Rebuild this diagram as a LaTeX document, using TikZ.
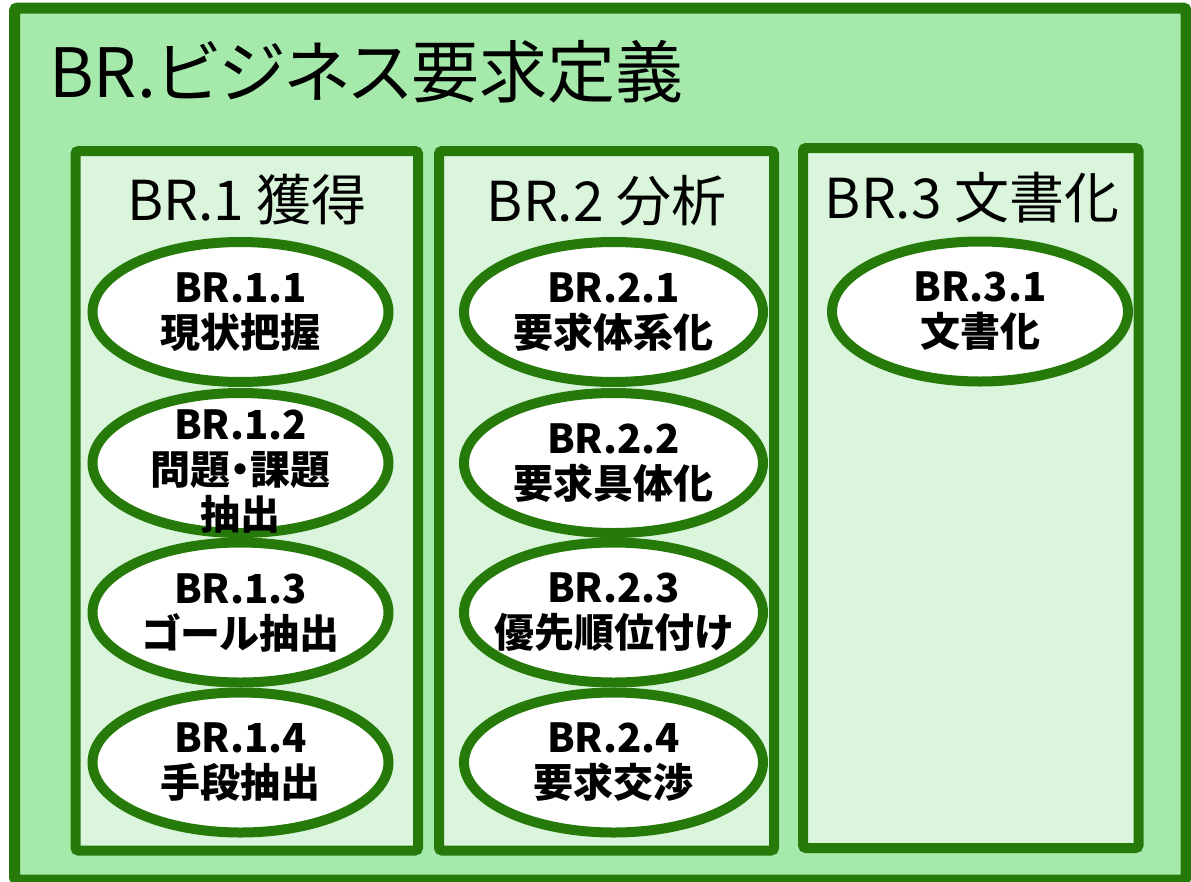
\documentclass[tikz,border=0pt]{standalone}
\usepackage{fontspec}
\setmainfont{Noto Sans CJK JP}[RawFeature=+palt]
\usetikzlibrary{shapes.geometric}
\definecolor{gstroke}{HTML}{267A0A}
\definecolor{gouter}{HTML}{A6EAAB}
\definecolor{ginner}{HTML}{DAF5DB}
\tikzset{
  outerbox/.style={rectangle, draw=gstroke, fill=gouter, line width=11pt, rounded corners=3pt, inner sep=0pt},
  colbox/.style={rectangle, draw=gstroke, fill=ginner, line width=10pt, rounded corners=3pt, inner sep=0pt},
  task/.style={ellipse, draw=gstroke, fill=white, line width=10pt, inner xsep=-40pt, inner ysep=-40pt, minimum width=296pt, minimum height=140pt, align=center, font=\fontsize{40}{45}\selectfont\bfseries},
  tasktext/.style={inner sep=0pt, align=center, font=\fontsize{40}{45}\selectfont\bfseries},
  coltitle/.style={anchor=base, inner sep=0pt, font=\fontsize{55}{60}\selectfont},
  maintitle/.style={anchor=base west, inner sep=0pt, font=\fontsize{68}{76}\selectfont}
}
\begin{document}
\begin{tikzpicture}[x=1pt,y=-1pt]
\useasboundingbox[fill=white] (0,0) rectangle (1191,881);
\node[outerbox, minimum width=1171.5pt, minimum height=872pt] (outer) at (600.25,444) {};
\node[maintitle] (title) at (49,97) {BR.ビジネス要求定義};

\node[colbox, minimum width=342.5pt, minimum height=699.5pt] (c1) at (246.75,500.75) {};
\node[colbox, minimum width=335pt, minimum height=699.5pt] (c2) at (606.5,500.75) {};
\node[colbox, minimum width=335.5pt, minimum height=700pt] (c3) at (970.75,498) {};

\node[coltitle] (t1) at (246.75,220) {BR.1 獲得};
\node[coltitle] (t2) at (606.5,221) {BR.2 分析};
\node[coltitle] (t3) at (972,218) {BR.3 文書化};

\node[task] (e11) at (240.5,312) {BR.1.1\\現状把握};
\node[task] (e12) at (240.5,463) {};
\node[tasktext] (e12t) at ([yshift=-8pt]e12.center) {BR.1.2\\問題・課題\\抽出};
\node[task] (e13) at (240.5,612.5) {BR.1.3\\ゴール抽出};
\node[task] (e14) at (240.5,762.5) {BR.1.4\\手段抽出};

\node[task, minimum width=299pt] (e21) at (613.5,312) {BR.2.1\\要求体系化};
\node[task, minimum width=299pt] (e22) at (613.5,463) {BR.2.2\\要求具体化};
\node[task, minimum width=299pt] (e23) at (613.5,612.5) {BR.2.3\\優先順位付け};
\node[task, minimum width=299pt] (e24) at (613.5,762.5) {BR.2.4\\要求交渉};

\node[task] (e31) at (980,311.5) {BR.3.1\\文書化};
\end{tikzpicture}
\end{document}
